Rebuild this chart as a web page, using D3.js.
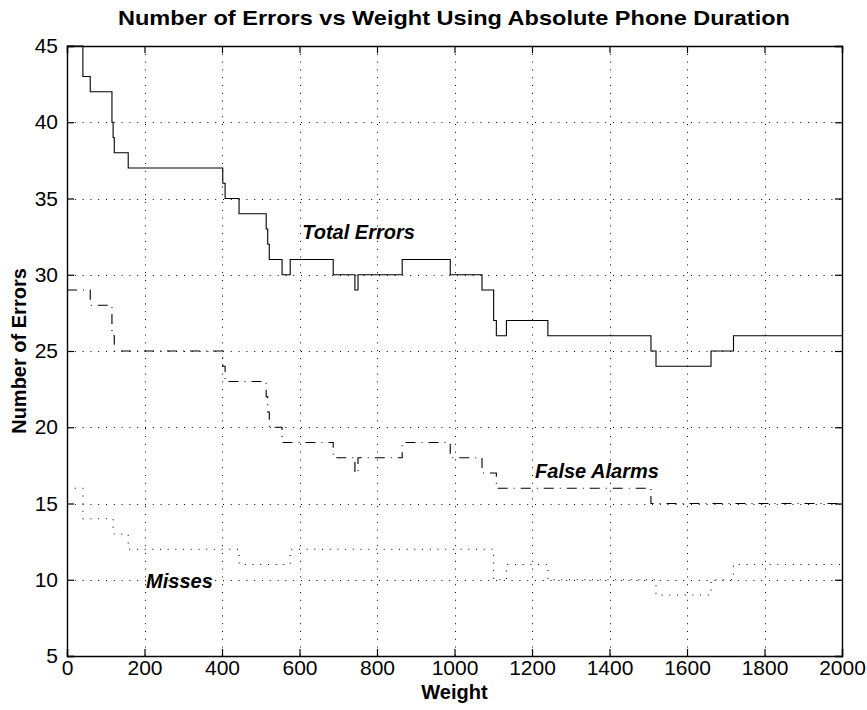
<!DOCTYPE html>
<html>
<head>
<meta charset="utf-8">
<script src="https://cdn.jsdelivr.net/npm/d3@7"></script>
<style>
  body { margin: 0; background: #fff; }
  svg { display: block; font-family: "Liberation Sans", Arial, sans-serif; }
</style>
</head>
<body>
<svg id="chart" width="867" height="710"></svg>
<script>
// step data, each value holds from its weight to the next one
const totalW = [0, 41, 60, 116, 119, 122, 158, 402, 408, 444, 514, 518, 522, 555, 576, 687, 743, 751, 865, 989, 1071, 1101, 1108, 1134, 1241, 1507, 1520, 1662, 1720, 2000]
const totalV = [45, 43, 42, 40, 39, 38, 37, 36, 35, 34, 33, 32, 31, 30, 31, 30, 29, 30, 31, 30, 29, 27, 26, 27, 26, 25, 24, 25, 26, 26]
const falseW = [0, 60, 116, 122, 402, 408, 514, 518, 522, 555, 687, 743, 751, 865, 989, 1071, 1108, 1507, 2000]
const falseV = [29, 28, 26, 25, 24, 23, 22, 21, 20, 19, 18, 17, 18, 19, 18, 17, 16, 15, 15]
const missW = [0, 41, 119, 158, 444, 576, 1101, 1134, 1241, 1520, 1662, 1720, 2000]
const missV = [16, 14, 13, 12, 11, 12, 10, 11, 10, 9, 10, 11, 11]
const xTicks = [0, 200, 400, 600, 800, 1000, 1200, 1400, 1600, 1800, 2000]
const yTicks = [5, 10, 15, 20, 25, 30, 35, 40, 45]
const labels = [
  { text: 'Total Errors', w: 607, v: 32.8 },
  { text: 'False Alarms', w: 1208, v: 17.1 },
  { text: 'Misses', w: 204, v: 9.9 }
]

const margin = { top: 46, right: 25, bottom: 54, left: 67 }
const W = 867, H = 710
const w = W - margin.left - margin.right
const h = H - margin.top - margin.bottom

const svg = d3.select('#chart')
const x = d3.scaleLinear().domain([0, 2000]).range([0, w])
const y = d3.scaleLinear().domain([5, 45]).range([h, 0])

const g = svg.append('g').attr('transform', `translate(${margin.left},${margin.top})`)

// grid
const grid = g.append('g').attr('stroke', '#000').attr('stroke-width', 1).attr('stroke-dasharray', '1,6.8')
grid.selectAll('.gx').data(xTicks.slice(1, -1)).enter().append('line')
  .attr('x1', d => Math.round(x(d)) + 0.5).attr('x2', d => Math.round(x(d)) + 0.5)
  .attr('y1', 0).attr('y2', h)
grid.selectAll('.gy').data(yTicks.slice(1, -1)).enter().append('line')
  .attr('y1', d => Math.round(y(d)) + 0.5).attr('y2', d => Math.round(y(d)) + 0.5)
  .attr('x1', 0).attr('x2', w)

// lines
const zip = (ws, vs) => ws.map((d, i) => [d, vs[i]])
const line = d3.line().x(d => x(d[0])).y(d => y(d[1])).curve(d3.curveStepAfter)
const plot = g.append('g').attr('fill', 'none').attr('stroke', '#000')
plot.append('path').attr('d', line(zip(totalW, totalV))).attr('stroke-width', 1.1)
plot.append('path').attr('d', line(zip(falseW, falseV))).attr('stroke-width', 1.1).attr('stroke-dasharray', '10,6,1,6')
plot.append('path').attr('d', line(zip(missW, missV))).attr('stroke-width', 1.1).attr('stroke-dasharray', '1,6.7')

// frame + inward ticks
const tl = 7
const axes = g.append('g').attr('font-size', 20).attr('fill', '#000')
axes.append('g').attr('transform', `translate(0,${h})`)
  .call(d3.axisBottom(x).tickValues(xTicks).tickSize(-tl).tickPadding(4).tickFormat(d3.format('d')))
axes.append('g')
  .call(d3.axisTop(x).tickValues(xTicks).tickSize(-tl).tickFormat(''))
axes.append('g')
  .call(d3.axisLeft(y).tickValues(yTicks).tickSize(-tl).tickPadding(9))
axes.append('g').attr('transform', `translate(${w},0)`)
  .call(d3.axisRight(y).tickValues(yTicks).tickSize(-tl).tickFormat(''))
axes.selectAll('.domain').attr('stroke', '#000').attr('stroke-width', 1.4)
axes.selectAll('.tick line').attr('stroke', '#000').attr('stroke-width', 1.2)
axes.selectAll('.tick text').attr('font-family', '"Liberation Sans", Arial, sans-serif').attr('font-size', 21).attr('fill', '#000')

// annotations
g.selectAll('.lab').data(labels).enter().append('text')
  .attr('x', d => x(d.w)).attr('y', d => y(d.v)).attr('dy', '0.35em')
  .attr('font-size', 20).attr('font-weight', 'bold').attr('font-style', 'italic')
  .text(d => d.text)

// titles
svg.append('text').attr('x', 454).attr('y', 25).attr('text-anchor', 'middle')
  .attr('font-size', 21).attr('font-weight', 'bold')
  .attr('textLength', 672).attr('lengthAdjust', 'spacingAndGlyphs')
  .text('Number of Errors vs Weight Using Absolute Phone Duration')
svg.append('text').attr('x', margin.left + w / 2).attr('y', 699).attr('text-anchor', 'middle')
  .attr('font-size', 20).attr('font-weight', 'bold').text('Weight')
svg.append('text').attr('transform', `translate(26,${margin.top + h / 2}) rotate(-90)`)
  .attr('text-anchor', 'middle').attr('font-size', 20).attr('font-weight', 'bold')
  .text('Number of Errors')
</script>
</body>
</html>
